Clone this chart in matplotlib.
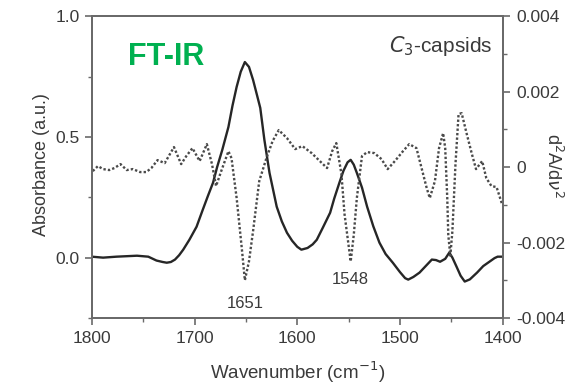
import matplotlib
matplotlib.use("Agg")
import matplotlib.pyplot as plt
from matplotlib.ticker import MultipleLocator

plt.rcParams['font.family'] = ['Liberation Sans', 'DejaVu Sans']

# absorbance spectrum (left axis)
abs_wn = [1800, 1789, 1776, 1756, 1745, 1737, 1731, 1727, 1723, 1719, 1715,
          1711, 1705, 1698, 1692, 1687, 1682, 1678, 1673, 1667, 1663, 1659,
          1655, 1651, 1647, 1643, 1639, 1636, 1632, 1627, 1620, 1615, 1610,
          1605, 1600, 1596, 1590, 1585, 1581, 1575, 1568, 1564, 1559, 1555,
          1551, 1548, 1545, 1542, 1537, 1532, 1526, 1520, 1514, 1507, 1500,
          1495, 1492, 1487, 1481, 1475, 1469, 1465, 1461, 1456, 1452, 1449,
          1445, 1441, 1437, 1432, 1425, 1419, 1413, 1408, 1405, 1400]
abs_val = [0.004, 0.0, 0.004, 0.008, 0.004, -0.012, -0.018, -0.021, -0.018,
           -0.008, 0.01, 0.033, 0.074, 0.128, 0.198, 0.255, 0.31, 0.375, 0.446,
           0.541, 0.63, 0.707, 0.77, 0.81, 0.79, 0.736, 0.67, 0.62, 0.488,
           0.351, 0.211, 0.15, 0.103, 0.07, 0.045, 0.033, 0.04, 0.055, 0.074,
           0.125, 0.186, 0.245, 0.31, 0.36, 0.395, 0.405, 0.385, 0.351, 0.29,
           0.211, 0.13, 0.062, 0.015, -0.021, -0.06, -0.085, -0.091, -0.08,
           -0.062, -0.035, -0.008, -0.01, -0.017, -0.005, 0.021, 0.0, -0.037,
           -0.075, -0.099, -0.09, -0.062, -0.035, -0.017, -0.002, 0.004, 0.004]

# second derivative (right axis), units of 1e-3
d2_wn = [1799, 1794, 1789, 1783, 1778, 1772, 1766, 1760, 1753, 1747, 1742,
         1736, 1729, 1720, 1713, 1708, 1702, 1695, 1688, 1683, 1679, 1674,
         1667, 1664, 1659, 1654, 1651, 1647, 1643, 1637, 1630, 1624, 1618,
         1610, 1602, 1595, 1586, 1578, 1571, 1566, 1562, 1557, 1554, 1548,
         1545, 1542, 1537, 1532, 1525, 1518, 1512, 1505, 1497, 1491, 1484,
         1479, 1474, 1471, 1466, 1462, 1458, 1456, 1454, 1453, 1451, 1449,
         1446, 1443, 1440, 1435, 1430, 1426, 1420, 1416, 1411, 1406, 1401]
d2_val = [-0.106, 0.026, -0.053, -0.079, -0.026, 0.079, -0.079, -0.053,
          -0.132, -0.132, -0.026, 0.185, 0.106, 0.53, 0.079, 0.291, 0.503,
          0.159, 0.609, 0.079, -0.503, -0.106, 0.42, 0.238, -0.821, -2.146,
          -3.0, -2.5, -1.695, -0.371, 0.238, 0.689, 0.98, 0.768, 0.477, 0.556,
          0.371, 0.159, -0.026, 0.424, 0.636, -0.185, -1.245, -2.5, -1.8,
          -0.821, 0.291, 0.397, 0.371, 0.212, -0.053, 0.159, 0.424, 0.609,
          0.503, -0.026, -0.556, -0.821, -0.371, 0.503, 0.901, 0.503, -0.821,
          -1.8, -2.35, -1.695, 0.079, 1.404, 1.43, 0.874, 0.344, -0.053, 0.159,
          -0.291, -0.503, -0.53, -0.954]
d2_val = [v * 1e-3 for v in d2_val]

grey = '#6a6a6a'
txt = '#3a3a3a'

fig = plt.figure(figsize=(5.7, 3.85), dpi=100)
ax = fig.add_axes([0.161, 0.174, 0.721, 0.784])
ax2 = ax.twinx()

ax.plot(abs_wn, abs_val, color='#262626', lw=1.7, zorder=3)
ax2.plot(d2_wn, d2_val, color='#4a4a4a', lw=1.7, ls=(0, (1, 0.9)))

ax.set_xlim(1800, 1400)
ax.set_ylim(-0.25, 1.0)
ax2.set_ylim(-0.004, 0.004)

ax.xaxis.set_major_locator(MultipleLocator(100))
ax.xaxis.set_minor_locator(MultipleLocator(50))
ax.yaxis.set_minor_locator(MultipleLocator(0.25))
ax2.yaxis.set_minor_locator(MultipleLocator(0.001))
ax.set_yticks([0.0, 0.5, 1.0])
ax.set_yticklabels(['0.0', '0.5', '1.0'])
ax2.set_yticks([-0.004, -0.002, 0, 0.002, 0.004])
ax2.set_yticklabels(['-0.004', '-0.002', '0', '0.002', '0.004'])

for a in (ax, ax2):
    for s in a.spines.values():
        s.set_color(grey)
        s.set_linewidth(1.4)
    a.tick_params(which='major', length=5, width=1.2, color=grey,
                  labelsize=12.5, labelcolor=txt, direction='out')
    a.tick_params(which='minor', length=3, width=1.0, color=grey, direction='out')
ax.tick_params(axis='x', top=False, which='both', pad=4)
ax2.tick_params(axis='y', pad=5)

ax.set_xlabel('Wavenumber (cm$^{-1}$)', fontsize=13.5, color=txt, labelpad=10)
fig.text(42 / 570, 1 - 165 / 385, 'Absorbance (a.u.)', fontsize=13,
         color=txt, rotation=90, ha='center', va='center')
fig.text(553 / 570, 1 - 166 / 385, 'd$^2$A/d$\\nu^2$', fontsize=13,
         color=txt, rotation=270, ha='center', va='center')

ax.text(0.18, 0.865, 'FT-IR', transform=ax.transAxes, fontsize=22,
        fontweight='bold', color='#00b050', ha='center', va='center')
ax.text(0.975, 0.9, r'$\mathit{C}_{3}$-capsids', transform=ax.transAxes,
        fontsize=15, color=txt, ha='right', va='center')
ax.text(1651, -0.19, '1651', fontsize=12, color=txt, ha='center', va='center')
ax.text(1548, -0.09, '1548', fontsize=12, color=txt, ha='center', va='center')

fig.savefig('out.png', dpi=100)
